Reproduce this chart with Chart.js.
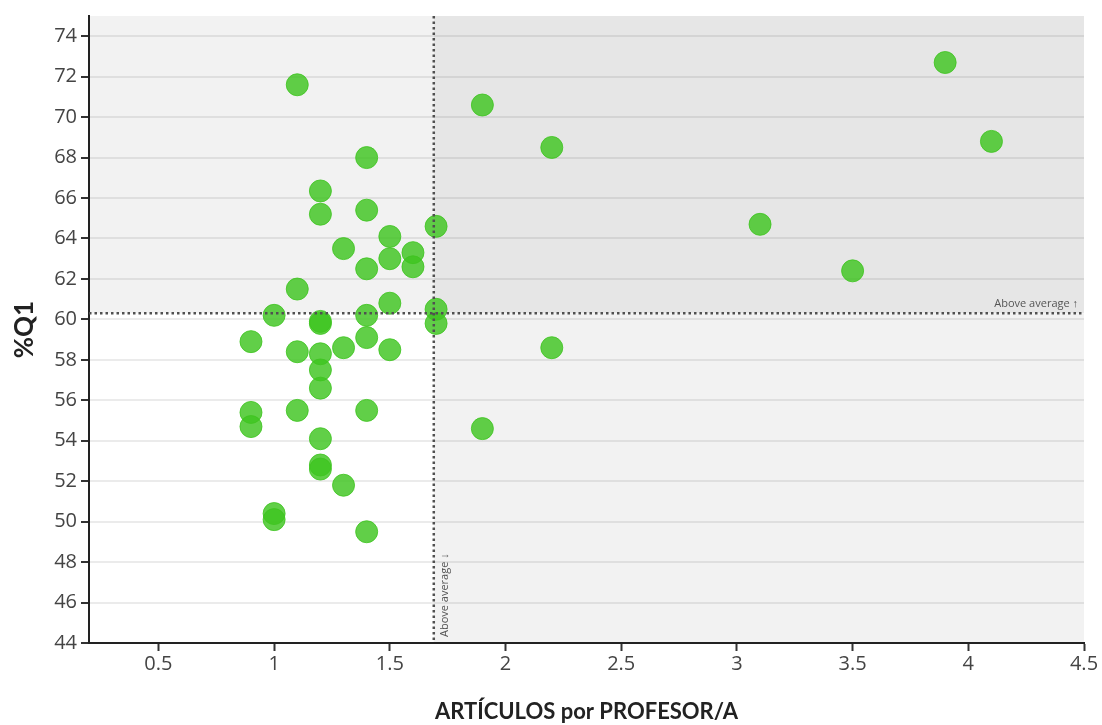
<!DOCTYPE html>
<html>
<head>
<meta charset="utf-8">
<script src="https://cdn.jsdelivr.net/npm/chart.js@4.4.1/dist/chart.umd.min.js"></script>
<style>
html,body{margin:0;padding:0;background:#fff;}
#wrap{width:1102px;height:725px;position:relative;}
</style>
</head>
<body>
<div id="wrap"><canvas id="c" width="1102" height="725"></canvas></div>
<script>
// ---- data ----
const articulosPorProfesor = [1.1, 3.9, 1.9, 2.2, 4.1, 1.4, 1.2, 1.2, 1.4, 1.7, 3.1, 1.5, 1.3, 1.6, 1.5, 1.6, 1.4, 3.5, 1.1, 1.5, 1.7, 1.0, 1.4, 1.2, 1.2, 1.7, 0.9, 1.4, 1.1, 1.2, 1.3, 1.5, 2.2, 1.2, 1.2, 0.9, 0.9, 1.1, 1.4, 1.9, 1.2, 1.2, 1.2, 1.3, 1.0, 1.0, 1.4];
const porcentajeQ1 = [71.6, 72.7, 70.6, 68.5, 68.8, 68.0, 66.35, 65.2, 65.4, 64.6, 64.7, 64.1, 63.5, 63.3, 63.0, 62.6, 62.5, 62.4, 61.5, 60.8, 60.5, 60.2, 60.2, 59.9, 59.8, 59.8, 58.9, 59.1, 58.4, 58.3, 58.6, 58.5, 58.6, 57.5, 56.6, 55.4, 54.7, 55.5, 55.5, 54.6, 54.1, 52.8, 52.6, 51.8, 50.4, 50.1, 49.5];
const xTickValues = [0.5, 1, 1.5, 2, 2.5, 3, 3.5, 4, 4.5];
const yTickValues = [44, 46, 48, 50, 52, 54, 56, 58, 60, 62, 64, 66, 68, 70, 72, 74];
const averageX = 1.69;
const averageY = 60.3;
const xAxisTitle = 'ARTÍCULOS por PROFESOR/A';
const yAxisTitle = '%Q1';
const averageLabelY = 'Above average \u2191';
const averageLabelX = 'Above average \u2193';

const points = articulosPorProfesor.map((x, i) => ({x: x, y: porcentajeQ1[i]}));

const quadrantPlugin = {
  id: 'quadrants',
  beforeDraw(chart) {
    const {ctx, chartArea: a, scales: {x, y}} = chart;
    ctx.save();
    ctx.fillStyle = '#fff';
    ctx.fillRect(0, 0, chart.width, chart.height);
    const ax = x.getPixelForValue(averageX);
    const ay = y.getPixelForValue(averageY);
    ctx.fillStyle = '#f2f2f2';
    ctx.fillRect(a.left, a.top, ax - a.left, ay - a.top);
    ctx.fillStyle = '#e6e6e6';
    ctx.fillRect(ax, a.top, a.right - ax, ay - a.top);
    ctx.fillStyle = '#f2f2f2';
    ctx.fillRect(ax, ay, a.right - ax, a.bottom - ay);
    ctx.restore();
  },
  afterDatasetsDraw(chart) {
    const {ctx, chartArea: a, scales: {x, y}} = chart;
    const ax = x.getPixelForValue(averageX);
    const ay = y.getPixelForValue(averageY);
    ctx.save();
    ctx.strokeStyle = '#505050';
    ctx.lineWidth = 2.5;
    ctx.setLineDash([2.5, 3]);
    ctx.beginPath();
    ctx.moveTo(a.left, ay); ctx.lineTo(a.right, ay);
    ctx.moveTo(ax, a.top); ctx.lineTo(ax, a.bottom);
    ctx.stroke();
    ctx.setLineDash([]);
    ctx.fillStyle = '#555';
    ctx.font = '11px "Open Sans", sans-serif';
    ctx.textAlign = 'right';
    ctx.textBaseline = 'bottom';
    ctx.fillText(averageLabelY, a.right - 6, ay - 4);
    ctx.translate(ax + 11, a.bottom - 6);
    ctx.rotate(-Math.PI / 2);
    ctx.textAlign = 'left';
    ctx.textBaseline = 'middle';
    ctx.fillText(averageLabelX, 0, 0);
    ctx.restore();
  }
};

new Chart(document.getElementById('c'), {
  type: 'scatter',
  data: {
    datasets: [{
      data: points,
      backgroundColor: 'rgba(62,196,32,0.82)',
      borderColor: 'rgba(62,196,32,0.82)',
      borderWidth: 1,
      pointRadius: 11,
      pointHoverRadius: 11
    }]
  },
  options: {
    responsive: false,
    animation: false,
    devicePixelRatio: 1,
    layout: {padding: {left: 0, right: 18, top: 15, bottom: 0}},
    plugins: {legend: {display: false}, tooltip: {enabled: false}},
    scales: {
      x: {
        type: 'linear',
        min: 0.2, max: 4.5,
        afterBuildTicks: (s) => { s.ticks = xTickValues.map(v => ({value: v})); },
        afterFit: (s) => { s.height = 82; },
        grid: {drawOnChartArea: false, drawTicks: true, tickLength: 8, tickColor: '#333', tickWidth: 2},
        border: {color: '#222', width: 2},
        ticks: {color: '#444', padding: 1, font: {family: '"Open Sans", sans-serif', size: 20}, maxRotation: 0,
                callback: (v) => String(v)},
        title: {display: true, text: xAxisTitle, color: '#222', padding: {top: 0, bottom: 0},
                font: {family: 'Lato, sans-serif', size: 22, weight: 'bold'}}
      },
      y: {
        type: 'linear',
        min: 44, max: 75,
        afterBuildTicks: (s) => { s.ticks = yTickValues.map(v => ({value: v})); },
        afterFit: (s) => { s.width = 89; },
        grid: {color: 'rgba(0,0,0,0.08)', lineWidth: 2, drawTicks: true, tickLength: 8, tickColor: '#333', tickWidth: 2},
        border: {color: '#222', width: 2},
        ticks: {color: '#444', padding: 4, font: {family: '"Open Sans", sans-serif', size: 20},
                callback: (v) => String(v)},
        title: {display: true, text: yAxisTitle, color: '#222', padding: {top: 9, bottom: 0},
                font: {family: 'Lato, sans-serif', size: 26, weight: 'bold'}}
      }
    }
  },
  plugins: [quadrantPlugin]
});
</script>
</body>
</html>
